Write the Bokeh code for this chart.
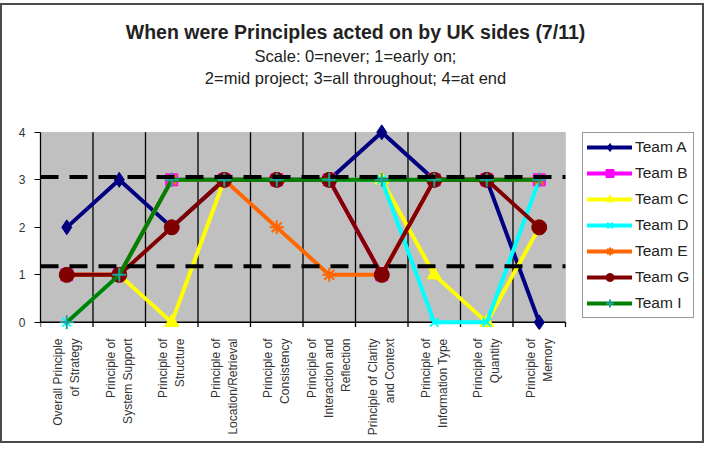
import math
from bokeh.plotting import figure
from bokeh.models import (Range1d, FixedTicker, Legend, Label, LegendItem,
                          BoxAnnotation, ColumnDataSource)
from bokeh.embed import file_html
from bokeh.resources import INLINE

# ---------------- data ----------------
categories = [
    "Overall Principle\nof Strategy",
    "Principle of\nSystem Support",
    "Principle of\nStructure",
    "Principle of\nLocation/Retrieval",
    "Principle of\nConsistency",
    "Principle of\nInteraction and\nReflection",
    "Principle of Clarity\nand Context",
    "Principle of\nInformation Type",
    "Principle of\nQuantity",
    "Principle of\nMemory",
]
team_names = ["Team A", "Team B", "Team C", "Team D", "Team E", "Team G", "Team I"]
team_a = [2, 3, 2, 3, 3, 3, 4, 3, 3, 0]
team_b = [1, 1, 3, 3, 3, 3, 1, 3, 3, 3]
team_c = [1, 1, 0, 3, 3, 3, 3, 1, 0, 2]
team_d = [0, 1, 3, 3, 3, 3, 3, 0, 0, 3]
team_e = [1, 1, 3, 3, 2, 1, 1, 3, 3, 3]
team_g = [1, 1, 2, 3, 3, 3, 1, 3, 3, 2]
team_i = [0, 1, 3, 3, 3, 3, 3, 3, 3, 3]
y_ticks = [0, 1, 2, 3, 4]
level_high = 3.06
level_low = 1.18

title_text = "When were Principles acted on by UK sides (7/11)"
subtitle_1 = "Scale: 0=never; 1=early on;"
subtitle_2 = "2=mid project; 3=all throughout; 4=at end"

# ---------------- styles / layout ----------------
FONT = "Liberation Sans"
styles = [
    dict(color="#000080", marker="diamond", size=15, mline=None),
    dict(color="#FF00FF", marker="square", size=12, mline=None),
    dict(color="#FFFF00", marker="triangle", size=14, mline=None),
    dict(color="#00FFFF", marker="x", size=12, mline=2),
    dict(color="#FF6600", marker="asterisk", size=14, mline=2),
    dict(color="#800000", marker="circle", size=15, mline=None),
    dict(color="#008000", marker="cross", size=14, mline=2, mcolor="#20A0A0"),
]
series = [team_a, team_b, team_c, team_d, team_e, team_g, team_i]

n = len(categories)
xpos = list(range(n))
W, H = 704, 440
LEFT, BOTTOM = 38, 116
frame_w = W - LEFT
plot_w = 525                      # width of the grey plot area in pixels
x_end = -0.5 + n * frame_w / plot_w

p = figure(width=W, height=H,
           x_range=Range1d(-0.5, x_end),
           y_range=Range1d(-0.15, 6.67),
           output_backend="svg", toolbar_location=None,
           min_border_left=LEFT, min_border_right=0,
           min_border_top=0, min_border_bottom=BOTTOM,
           margin=(3, 0, 0, 0),
           styles={"border": "2px solid #4a4a4a"})
p.title.text = ""
p.title.visible = False
p.outline_line_color = None
p.background_fill_color = "white"
p.border_fill_color = "white"
p.xgrid.visible = False
p.ygrid.visible = False

x_lo, x_hi = -0.5, n - 0.5

# plot area (grey) between 0 and 4
p.add_layout(BoxAnnotation(left=x_lo, right=x_hi, bottom=y_ticks[0], top=y_ticks[-1],
                           fill_color="#C0C0C0", fill_alpha=1, line_color="#9A9A9A",
                           line_width=1, level="underlay"))

# category boundary grid lines and ticks
bounds_inner = [i + 0.5 for i in xpos[:-1]]
p.segment(x0=bounds_inner, y0=[y_ticks[0]] * len(bounds_inner),
          x1=bounds_inner, y1=[y_ticks[-1]] * len(bounds_inner),
          line_color="black", line_width=1.3)
bounds_all = [i - 0.5 for i in xpos] + [x_hi]
p.segment(x0=bounds_all, y0=[y_ticks[0]] * len(bounds_all),
          x1=bounds_all, y1=[-0.1] * len(bounds_all),
          line_color="black", line_width=1.3)
# x axis line at 0
p.segment(x0=[x_lo], y0=[y_ticks[0]], x1=[x_hi], y1=[y_ticks[0]],
          line_color="black", line_width=1.5)

items = []
for name, vals, st in zip(team_names, series, styles):
    src = ColumnDataSource(dict(x=xpos, y=vals))
    ln = p.line("x", "y", source=src, line_color=st["color"], line_width=4,
                line_join="round", line_cap="round")
    mcol = st.get("mcolor", st["color"])
    sc = p.scatter("x", "y", source=src, marker=st["marker"], size=st["size"],
                   fill_color=mcol, line_color=mcol,
                   line_width=st["mline"] if st["mline"] else 1)
    items.append(LegendItem(label=name, renderers=[ln, sc]))

# reference dashed lines
levels = [level_high, level_low]
p.segment(x0=[x_lo] * 2, y0=levels, x1=[x_hi] * 2, y1=levels,
          line_color="black", line_width=4, line_dash="18 11")

# axes
p.yaxis.ticker = FixedTicker(ticks=y_ticks)
p.yaxis.bounds = (y_ticks[0], y_ticks[-1])
p.yaxis.major_tick_out = 6
p.yaxis.major_tick_in = 0
p.yaxis.minor_tick_line_color = None
p.yaxis.axis_line_color = "black"
p.yaxis.axis_line_width = 1.3
p.yaxis.major_tick_line_color = "black"
p.yaxis.major_label_text_font = FONT
p.yaxis.major_label_text_font_size = "12px"
p.yaxis.major_label_text_color = "#333333"
p.yaxis.major_label_standoff = 9

p.xaxis.ticker = FixedTicker(ticks=xpos)
p.xaxis.major_label_overrides = {i: c for i, c in zip(xpos, categories)}
p.xaxis.axis_line_color = None
p.xaxis.major_tick_line_color = None
p.xaxis.minor_tick_line_color = None
p.xaxis.major_label_orientation = math.pi / 2
p.xaxis.major_label_text_font = FONT
p.xaxis.major_label_text_font_size = "12px"
p.xaxis.major_label_text_color = "#333333"
p.xaxis.major_label_standoff = 3

# legend (inside the frame, right of the grey area)
legend = Legend(items=items, location=(542, 11), padding=4, spacing=6,
                glyph_width=45, glyph_height=20, label_height=20, label_standoff=3,
                label_text_font=FONT, label_text_font_size="15.5px",
                label_text_color="#222222",
                border_line_color="#333333", border_line_width=1.5,
                background_fill_color="white", background_fill_alpha=1, margin=0)
p.add_layout(legend)

# titles (screen units from the frame's bottom-left corner)
for txt, yy, fs, fw in [(title_text, 298, "19.5px", "bold"),
                        (subtitle_1, 274, "16.5px", "normal"),
                        (subtitle_2, 252, "16.5px", "normal")]:
    p.add_layout(Label(x=315, y=yy, x_units="screen", y_units="screen", text=txt,
                       text_align="center", text_baseline="middle", text_font=FONT,
                       text_font_size=fs, text_font_style=fw, text_color="#222222"))

open("out.html", "w").write(file_html(p, INLINE))
